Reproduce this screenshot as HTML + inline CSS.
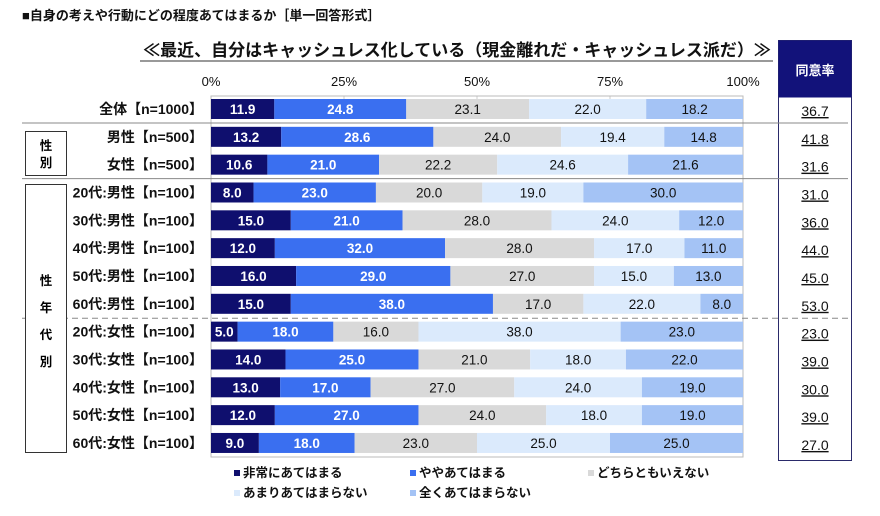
<!DOCTYPE html>
<html><head><meta charset="utf-8"><style>
body{margin:0;background:#fff;}
svg{display:block;font-family:"Liberation Sans","Noto Sans CJK JP",sans-serif;}
</style></head><body>
<svg id="c" width="880" height="516" viewBox="0 0 880 516"></svg>
<script>
const categories=["全体【n=1000】","男性【n=500】","女性【n=500】","20代:男性【n=100】","30代:男性【n=100】","40代:男性【n=100】","50代:男性【n=100】","60代:男性【n=100】","20代:女性【n=100】","30代:女性【n=100】","40代:女性【n=100】","50代:女性【n=100】","60代:女性【n=100】"];
const seriesNames=["非常にあてはまる","ややあてはまる","どちらともいえない","あまりあてはまらない","全くあてはまらない"];
const s1=[11.9,13.2,10.6,8,15,12,16,15,5,14,13,12,9];
const s2=[24.8,28.6,21,23,21,32,29,38,18,25,17,27,18];
const s3=[23.1,24,22.2,20,28,28,27,17,16,21,27,24,23];
const s4=[22,19.4,24.6,19,24,17,15,22,38,18,24,18,25];
const s5=[18.2,14.8,21.6,30,12,11,13,8,23,22,19,19,25];
const agree=["36.7","41.8","31.6","31.0","36.0","44.0","45.0","53.0","23.0","39.0","30.0","39.0","27.0"];
const ticks=["0%","25%","50%","75%","100%"];
const tickVals=[0,25,50,75,100];
const series=[s1,s2,s3,s4,s5];
const colors=["#0f0f6e","#3a6ff0","#d9d9d9","#dbeafc","#a4c3f5"];
const txtCol=["#fff","#fff","#111","#111","#111"];
const svg=document.getElementById('c');
const NS="http://www.w3.org/2000/svg";
const x0=211,x1=743;
const xs=v=>x0+(x1-x0)*v/100;
const yc=i=>109+i*27.83;
function mk(t,a,txt){const e=document.createElementNS(NS,t);for(const k in a)e.setAttribute(k,a[k]);if(txt!=null)e.textContent=txt;svg.appendChild(e);return e;}
let e;
e=mk('text',{x:22,y:20,'font-size':13,'font-weight':'bold',fill:'#111'},'■自身の考えや行動にどの程度あてはまるか［単一回答形式］');

e=mk('text',{x:457,y:56,'font-size':17,'font-weight':'bold','text-anchor':'middle',fill:'#111'},'≪最近、自分はキャッシュレス化している（現金離れだ・キャッシュレス派だ）≫');

e=mk('line',{x1:140,x2:773,y1:61,y2:61,stroke:'#333','stroke-width':1});

tickVals.forEach((v,i)=>{
 e=mk('text',{x:xs(v),y:86,'font-size':13,'text-anchor':'middle',fill:'#111'},ticks[i]);
 
 e=mk('line',{x1:xs(v),x2:xs(v),y1:96,y2:99,stroke:'#ccc'});
 
});
e=mk('rect',{x:x0,y:96,width:x1-x0,height:361,fill:'none',stroke:'#bbb','stroke-width':1});

e=mk('rect',{x:778.5,y:40.5,width:73,height:420,fill:'#fff',stroke:'#2a2a6a','stroke-width':1});

e=mk('rect',{x:778.5,y:40.5,width:73,height:57,fill:'#12127a'});

e=mk('text',{x:815,y:75,'font-size':13,'font-weight':'bold','text-anchor':'middle',fill:'#fff'},'同意率');

categories.forEach((c,i)=>{
 const y=yc(i);
 e=mk('text',{x:203,y:y+5,'font-size':14,'font-weight':'bold','text-anchor':'end',fill:'#111'},c);
 
 let cum=0;
 series.forEach((s,k)=>{
  const v=s[i];const xa=xs(cum),xb=xs(Math.min(cum+v,100));
  e=mk('rect',{x:xa,y:y-10,width:Math.max(0,xb-xa),height:20,fill:colors[k]});
  
  e=mk('text',{x:(xa+xb)/2,y:y+5,'font-size':13.5,'font-weight':k<2?'bold':'normal','text-anchor':'middle',fill:txtCol[k]},v.toFixed(1));
  
  cum+=v;
 });
 e=mk('text',{x:815,y:y+7,'font-size':14,'text-anchor':'middle',fill:'#111','text-decoration':'underline'},agree[i]);
 
});
[[yc(0)+14,'none'],[yc(2)+14,'none'],[yc(7)+14.5,'6,4']].forEach(([y,d])=>{
 e=mk('line',{x1:22,x2:848,y1:y,y2:y,stroke:'#888','stroke-width':1,'stroke-dasharray':d});
 
});
e=mk('rect',{x:25.5,y:131.5,width:41,height:44,fill:'#fff',stroke:'#333'});

e=mk('text',{x:46,y:150,'font-size':12.5,'font-weight':'bold','text-anchor':'middle'},'性');

e=mk('text',{x:46,y:167,'font-size':12.5,'font-weight':'bold','text-anchor':'middle'},'別');

e=mk('rect',{x:25.5,y:184.5,width:41,height:268,fill:'#fff',stroke:'#333'});

['性','年','代','別'].forEach((t,i)=>{
 e=mk('text',{x:46,y:285+i*27,'font-size':12.5,'font-weight':'bold','text-anchor':'middle'},t);
 
});
const legPos=[[234,477],[410,477],[588,477],[234,497],[410,497]];
seriesNames.forEach((n,k)=>{
 const [lx,ly]=legPos[k];
 e=mk('rect',{x:lx,y:ly-7,width:6,height:6,fill:colors[k]});
 
 e=mk('text',{x:lx+9,y:ly,'font-size':12.5,'font-weight':'bold',fill:'#111'},n);
 
});
</script>
</body></html>
